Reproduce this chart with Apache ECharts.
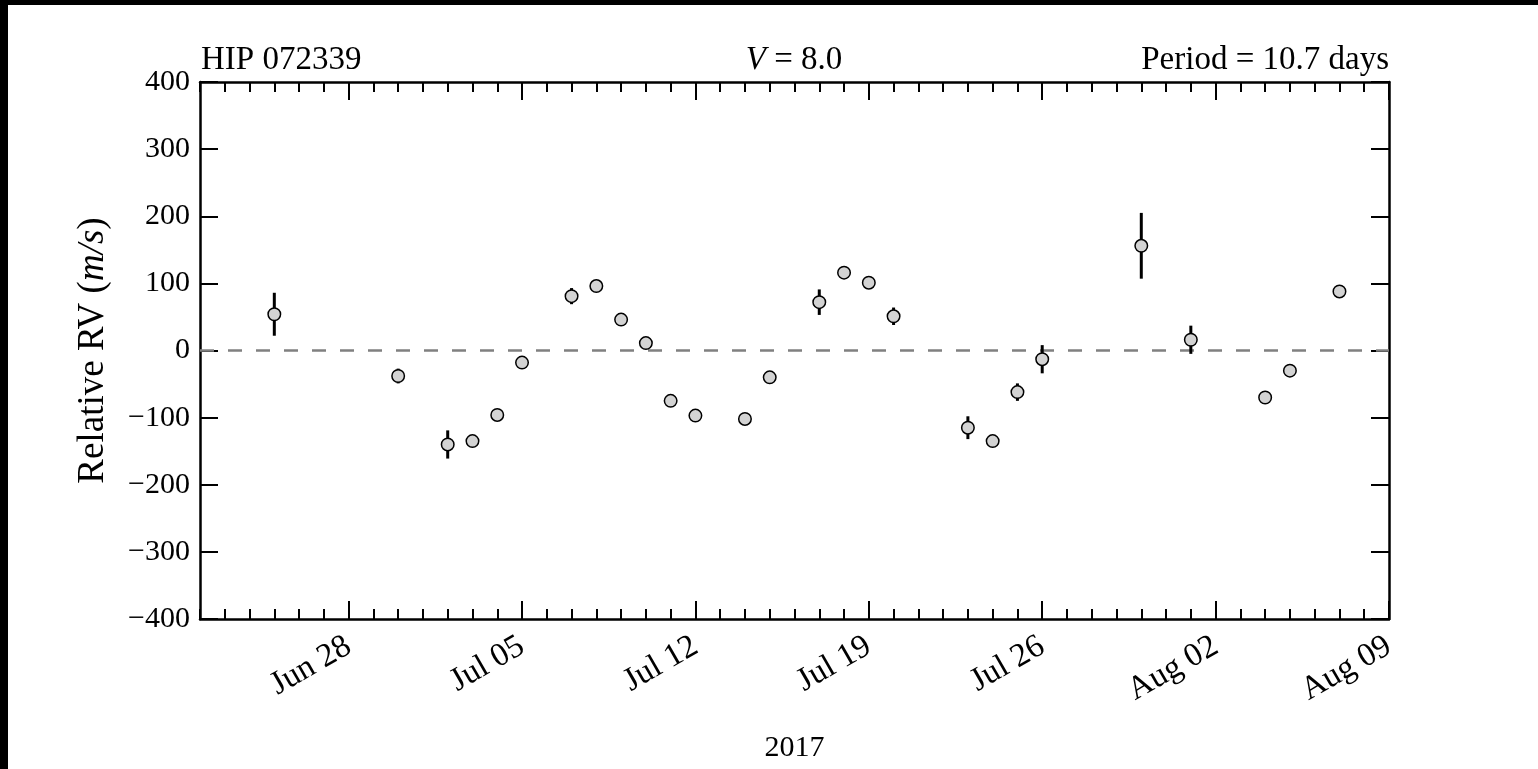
<!DOCTYPE html>
<html>
<head>
<meta charset="utf-8">
<script src="https://cdn.jsdelivr.net/npm/echarts@6/dist/echarts.min.js"></script>
<style>
html,body{margin:0;padding:0;background:#fff;}
#chart{width:1538px;height:769px;}
</style>
</head>
<body>
<div id="chart"></div>
<script>
// ---- data ----
const obsDates = ['2017-06-25','2017-06-30','2017-07-02','2017-07-03','2017-07-04','2017-07-05',
  '2017-07-07','2017-07-08','2017-07-09','2017-07-10','2017-07-11','2017-07-12','2017-07-14',
  '2017-07-15','2017-07-17','2017-07-18','2017-07-19','2017-07-20','2017-07-23','2017-07-24',
  '2017-07-25','2017-07-26','2017-07-30','2017-08-01','2017-08-04','2017-08-05','2017-08-07'];
const rvValues = [54, -38, -140, -135, -96, -18, 81, 96, 46, 11, -75, -97, -102, -40,
  72, 116, 101, 51, -115, -135, -62, -13, 156, 16, -70, -30, 88];
const rvErrors = [32, 11, 21, 6, 6, 6, 12, 6, 6, 6, 6, 6, 6, 6, 19, 6, 6, 13, 17, 6,
  13, 21, 49, 21, 6, 6, 6];
const xTickLabels = ['Jun 28','Jul 05','Jul 12','Jul 19','Jul 26','Aug 02','Aug 09'];
const yTickLabels = ['\u2212400','\u2212300','\u2212200','\u2212100','0','100','200','300','400'];
const starName = 'HIP 072339';
const vMag = '8.0';
const periodText = 'Period = 10.7 days';
const yearLabel = '2017';
// axis extent, in days relative to the first labelled tick (Jun 28)
const refDate = Date.UTC(2017, 5, 28);
const xMin = -6, xMax = 42;

const DAY = 86400000;
const toDay = s => { const p = s.split('-').map(Number); return (Date.UTC(p[0], p[1]-1, p[2]) - refDate) / DAY; };
const pts = obsDates.map((d, i) => [toDay(d), rvValues[i], rvErrors[i]]);
const xTickValues = xTickLabels.map((_, i) => 7 * i);

const FONT = 'Liberation Serif';
const chart = echarts.init(document.getElementById('chart'), null, {renderer: 'canvas'});

const majorX = (pos, showLabel) => ({
  type: 'value', position: pos, min: xMin, max: xMax,
  axisLine: {show: true, onZero: false, lineStyle: {color: '#000', width: 2.5}},
  axisTick: {show: true, inside: true, length: 18, customValues: xTickValues,
    lineStyle: {color: '#000', width: 2}},
  splitLine: {show: false},
  axisLabel: showLabel ? {
    show: true, rotate: 30, margin: 25, fontFamily: FONT, fontSize: 33, color: '#000',
    customValues: xTickValues,
    formatter: v => xTickLabels[Math.round(v / 7)]
  } : {show: false},
  name: showLabel ? yearLabel : '', nameLocation: 'middle', nameGap: 114,
  nameTextStyle: {fontFamily: FONT, fontSize: 30, color: '#000'}
});
const minorX = pos => ({
  type: 'value', position: pos, min: xMin, max: xMax, interval: 1,
  axisLine: {show: false, onZero: false},
  axisTick: {show: true, inside: true, length: 10, lineStyle: {color: '#000', width: 2}},
  splitLine: {show: false}, axisLabel: {show: false}
});
const yAx = (pos, showLabel) => ({
  type: 'value', position: pos, min: -400, max: 400, interval: 100,
  axisLine: {show: true, onZero: false, lineStyle: {color: '#000', width: 2.5}},
  axisTick: {show: true, inside: true, length: 18, lineStyle: {color: '#000', width: 2}},
  splitLine: {show: false},
  axisLabel: showLabel ? {
    show: true, margin: 10, fontFamily: FONT, fontSize: 30, color: '#000',
    formatter: v => yTickLabels[Math.round((v + 400) / 100)]
  } : {show: false},
  name: showLabel ? 'Relative RV ({i|m/s})' : '', nameLocation: 'middle', nameGap: 88,
  nameTextStyle: {fontFamily: FONT, fontSize: 37, color: '#000',
    rich: {i: {fontFamily: FONT, fontSize: 37, fontStyle: 'italic', color: '#000'}}}
});

chart.setOption({
  animation: false,
  backgroundColor: '#fff',
  grid: {left: 200, right: 149, top: 82, bottom: 150, containLabel: false},
  xAxis: [majorX('bottom', true), minorX('bottom'), majorX('top', false), minorX('top')],
  yAxis: [yAx('left', true), yAx('right', false)],
  graphic: [
    {type: 'rect', left: 0, top: 0, shape: {width: 1538, height: 5}, style: {fill: '#000'}, z: 100},
    {type: 'rect', left: 0, top: 0, shape: {width: 8, height: 769}, style: {fill: '#000'}, z: 100},
    {type: 'text', x: 201, y: 77, style: {text: starName, font: '33px "Liberation Serif"', fill: '#000', textAlign: 'left', textVerticalAlign: 'bottom'}},
    {type: 'text', x: 1389, y: 77, style: {text: periodText, font: '33px "Liberation Serif"', fill: '#000', textAlign: 'right', textVerticalAlign: 'bottom'}},
    {type: 'text', x: 794, y: 77, style: {text: '{i|V} = ' + vMag, fill: '#000', textAlign: 'center', textVerticalAlign: 'bottom',
      font: '33px "Liberation Serif"',
      rich: {i: {fontFamily: FONT, fontSize: 33, fontStyle: 'italic', fill: '#000'}}}}
  ],
  series: [
    {
      type: 'custom', xAxisIndex: 0, yAxisIndex: 0, z: 3,
      data: pts,
      renderItem: (params, api) => {
        const x = api.value(0), y = api.value(1), e = api.value(2);
        const a = api.coord([x, y - e]), b = api.coord([x, y + e]);
        return {type: 'line', shape: {x1: a[0], y1: a[1], x2: b[0], y2: b[1]},
          style: {stroke: '#000', lineWidth: 3}};
      }
    },
    {
      type: 'scatter', xAxisIndex: 0, yAxisIndex: 0, z: 4,
      data: pts.map(p => [p[0], p[1]]),
      symbol: 'circle', symbolSize: 12.5,
      itemStyle: {color: '#d3d3d3', borderColor: '#000', borderWidth: 1.5, opacity: 1},
      markLine: {
        silent: true, symbol: ['none', 'none'], z: 1,
        label: {show: false},
        lineStyle: {color: '#808080', width: 2.5, type: [14, 14]},
        data: [{yAxis: 0}]
      }
    }
  ]
});
</script>
</body>
</html>
